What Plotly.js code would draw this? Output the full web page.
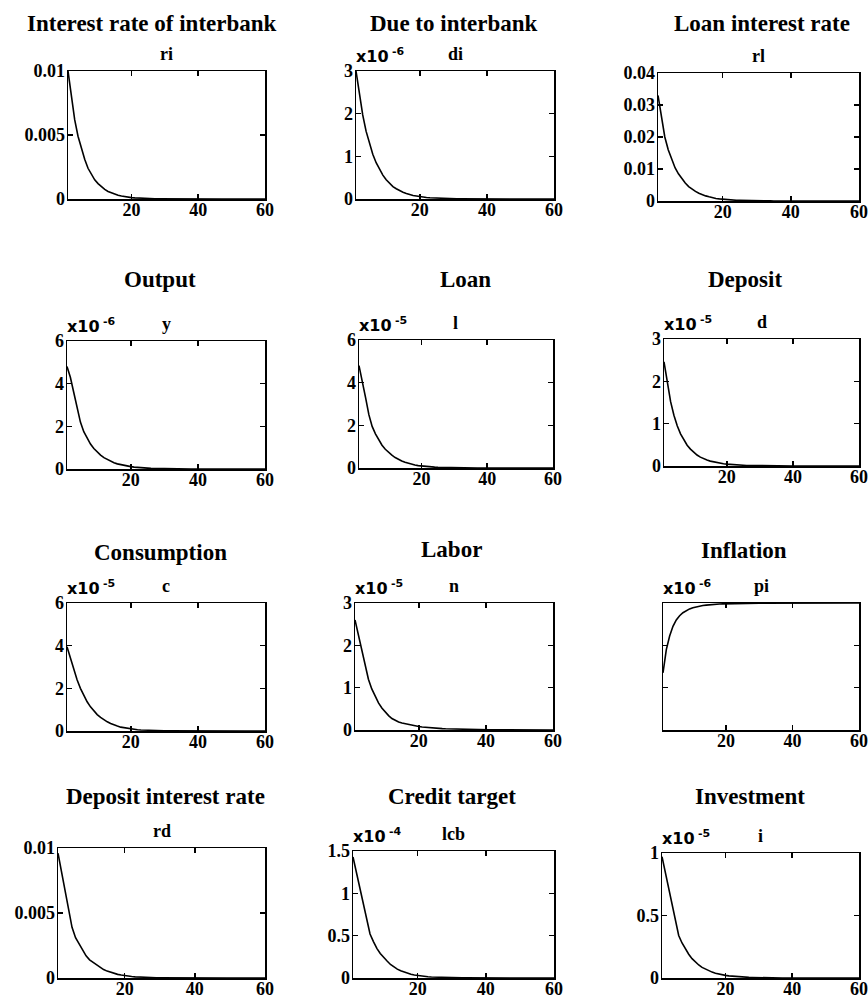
<!DOCTYPE html>
<html>
<head>
<meta charset="utf-8">
<script src="https://cdn.plot.ly/plotly-3.0.1.min.js"></script>
<style>html,body{margin:0;padding:0;background:#fff;}#chart{width:868px;height:1000px;}</style>
</head>
<body>
<div id="chart"></div>
<script>
// ---------------- DATA (impulse responses, periods 1..60) ----------------
const periods = Array.from({length: 60}, (_, k) => k + 1);

const panelTitles = ['Interest rate of interbank', 'Due to interbank', 'Loan interest rate',
                     'Output', 'Loan', 'Deposit',
                     'Consumption', 'Labor', 'Inflation',
                     'Deposit interest rate', 'Credit target', 'Investment'];
const varNames = ['ri', 'di', 'rl', 'y', 'l', 'd', 'c', 'n', 'pi', 'rd', 'lcb', 'i'];
const exponents = ['', '-6', '', '-6', '-5', '-5', '-5', '-5', '-6', '', '-4', '-5'];

const ri = [0.0100,0.0079,0.0062,0.0049,0.0039,0.0031,0.0024,0.0019,0.0015,0.0012,
  0.00095,0.00075,0.00059,0.00047,0.00037,0.00029,0.00023,0.00018,0.00014,0.00011,
  0.00009,0.00007,0.000055,0.000044,0.000035,0.000027,0.000022,0.000017,0.000013,0.00001,
  0.000008,0.000006,0.000005,0.000004,0.000003,0.000002,0.000002,0.000001,0.000001,0.000001,
  0,0,0,0,0,0,0,0,0,0, 0,0,0,0,0,0,0,0,0,0];
const di = [3.00,2.43,1.97,1.59,1.29,1.05,0.85,0.69,0.56,0.45,
  0.36,0.29,0.24,0.19,0.16,0.13,0.10,0.08,0.07,0.055,
  0.045,0.036,0.029,0.024,0.019,0.016,0.013,0.010,0.008,0.006,
  0.005,0.004,0.003,0.003,0.002,0.002,0.001,0.001,0.001,0.001,
  0,0,0,0,0,0,0,0,0,0, 0,0,0,0,0,0,0,0,0,0];
const rl = [0.0330,0.0258,0.0200,0.0160,0.0129,0.0104,0.0085,0.0069,0.0056,0.0045,
  0.0037,0.0030,0.0024,0.0019,0.0016,0.0013,0.0010,0.0008,0.00066,0.00053,
  0.00043,0.00034,0.00027,0.00022,0.00018,0.00014,0.00011,0.00009,0.00007,0.00006,
  0.00005,0.00004,0.00003,0.000025,0.00002,0.000015,0.000012,0.00001,0.000008,0.000006,
  0.000005,0.000004,0.000003,0.000002,0.000002,0.000001,0.000001,0.000001,0,0,
  0,0,0,0,0,0,0,0,0,0];
const y = [4.80,4.30,3.60,2.85,2.20,1.75,1.42,1.17,0.96,0.79,
  0.65,0.53,0.44,0.36,0.29,0.24,0.20,0.16,0.13,0.11,
  0.09,0.07,0.06,0.05,0.04,0.03,0.025,0.02,0.016,0.013,
  0.010,0.008,0.007,0.005,0.004,0.003,0.003,0.002,0.002,0.001,
  0.001,0.001,0,0,0,0,0,0,0,0, 0,0,0,0,0,0,0,0,0,0];
const l = [4.80,4.10,3.30,2.50,1.95,1.60,1.30,1.07,0.88,0.73,
  0.60,0.49,0.40,0.33,0.27,0.22,0.18,0.14,0.11,0.09,
  0.07,0.06,0.05,0.04,0.03,0.025,0.02,0.016,0.013,0.010,
  0.008,0.006,0.005,0.004,0.003,0.003,0.002,0.002,0.001,0.001,
  0,0,0,0,0,0,0,0,0,0, 0,0,0,0,0,0,0,0,0,0];
const d = [2.46,1.93,1.52,1.20,0.95,0.76,0.61,0.49,0.40,0.32,
  0.26,0.21,0.17,0.14,0.115,0.095,0.078,0.064,0.053,0.044,
  0.036,0.030,0.025,0.020,0.016,0.013,0.011,0.009,0.007,0.006,
  0.005,0.004,0.003,0.003,0.002,0.002,0.001,0.001,0.001,0.001,
  0,0,0,0,0,0,0,0,0,0, 0,0,0,0,0,0,0,0,0,0];
const c = [3.95,3.40,2.90,2.40,2.00,1.65,1.37,1.13,0.93,0.77,
  0.64,0.52,0.43,0.35,0.28,0.23,0.18,0.15,0.12,0.095,
  0.077,0.062,0.050,0.040,0.032,0.026,0.021,0.017,0.013,0.011,
  0.009,0.007,0.006,0.005,0.004,0.003,0.002,0.002,0.002,0.001,
  0.001,0.001,0,0,0,0,0,0,0,0, 0,0,0,0,0,0,0,0,0,0];
const n = [2.60,2.25,1.85,1.50,1.20,0.97,0.79,0.64,0.52,0.42,
  0.34,0.27,0.22,0.19,0.165,0.145,0.127,0.110,0.095,0.082,
  0.072,0.063,0.055,0.048,0.042,0.037,0.032,0.028,0.025,0.022,
  0.019,0.017,0.015,0.013,0.011,0.010,0.009,0.008,0.007,0.006,
  0.005,0.004,0.004,0.003,0.003,0.002,0.002,0.002,0.001,0.001,
  0.001,0.001,0.001,0,0,0,0,0,0,0];
const pi = [-1.65,-1.10,-0.78,-0.55,-0.40,-0.30,-0.23,-0.18,-0.14,-0.11,
  -0.09,-0.07,-0.06,-0.05,-0.04,-0.035,-0.03,-0.025,-0.02,-0.017,
  -0.014,-0.012,-0.010,-0.008,-0.007,-0.006,-0.005,-0.004,-0.003,-0.003,
  -0.002,-0.002,-0.002,-0.001,-0.001,-0.001,-0.001,0,0,0,
  0,0,0,0,0,0,0,0,0,0, 0,0,0,0,0,0,0,0,0,0];
const rd = [0.0096,0.0081,0.0066,0.0051,0.0039,0.0031,0.0026,0.0021,0.0017,0.0014,
  0.0012,0.00098,0.0008,0.00065,0.00053,0.00043,0.00035,0.00028,0.00023,0.00018,
  0.00014,0.00011,0.00009,0.00007,0.000055,0.000045,0.000035,0.000028,0.000022,0.000017,
  0.000013,0.00001,0.000008,0.000006,0.000005,0.000004,0.000003,0.000002,0.000002,0.000001,
  0.000001,0.000001,0,0,0,0,0,0,0,0, 0,0,0,0,0,0,0,0,0,0];
const lcb = [1.43,1.25,1.07,0.88,0.68,0.52,0.43,0.35,0.29,0.24,
  0.20,0.16,0.13,0.105,0.085,0.070,0.056,0.045,0.036,0.029,
  0.023,0.019,0.015,0.012,0.010,0.008,0.006,0.005,0.004,0.003,
  0.002,0.002,0.001,0.001,0.001,0,0,0,0,0, 0,0,0,0,0,0,0,0,0,0, 0,0,0,0,0,0,0,0,0,0];
const inv = [0.97,0.84,0.70,0.57,0.44,0.34,0.28,0.23,0.19,0.155,
  0.127,0.104,0.085,0.070,0.057,0.047,0.038,0.031,0.026,0.021,
  0.017,0.014,0.011,0.009,0.0075,0.006,0.005,0.004,0.003,0.0025,
  0.002,0.0015,0.001,0.001,0.001,0,0,0,0,0, 0,0,0,0,0,0,0,0,0,0, 0,0,0,0,0,0,0,0,0,0];

const series = [ri, di, rl, y, l, d, c, n, pi, rd, lcb, inv];

// y-axis ranges and tick labels
const yRanges = [[0,0.01],[0,3],[0,0.04],[0,6],[0,6],[0,3],[0,6],[0,3],[-3,0],[0,0.01],[0,1.5],[0,1]];
const yTickVals = [[0,0.005,0.01],[0,1,2,3],[0,0.01,0.02,0.03,0.04],[0,2,4,6],[0,2,4,6],[0,1,2,3],
                   [0,2,4,6],[0,1,2,3],[-3,-2,-1,0],[0,0.005,0.01],[0,0.5,1,1.5],[0,0.5,1]];
const yTickText = [['0','0.005','0.01'],['0','1','2','3'],['0','0.01','0.02','0.03','0.04'],['0','2','4','6'],
                   ['0','2','4','6'],['0','1','2','3'],['0','2','4','6'],['0','1','2','3'],null,
                   ['0','0.005','0.01'],['0','0.5','1','1.5'],['0','0.5','1']];
const xTickVals = [20, 40, 60];
const xTickText = ['20', '40', '60'];

// ---------------- LAYOUT (pixel boxes: left, right, top, bottom) ----------------
const W = 868, H = 1000;
const boxes = [
  [68,265,71,199],[356,554,71,199],[658,859,73,201],
  [67,265,341,469],[359,553,340,468],[664,859,339,466],
  [67,265,603,731],[355,553,603,730],[663,859,603,730],
  [58,265,848,978],[353,554,851,978],[662,859,853,978]
];
const bigTitlePos = [[152,23],[454,23],[762,23],[160,279],[465,279],[745,279],
                     [160,552],[452,549],[744,550],[165,796],[452,796],[750,796]];

const serif = 'Liberation Serif, Times New Roman, serif';
const traces = [];
const layout = {
  width: W, height: H,
  margin: {l: 0, r: 0, t: 0, b: 0},
  paper_bgcolor: '#fff', plot_bgcolor: '#fff',
  showlegend: false,
  annotations: []
};

series.forEach((vals, k) => {
  const idx = k + 1;
  const xa = idx === 1 ? 'x' : 'x' + idx;
  const ya = idx === 1 ? 'y' : 'y' + idx;
  traces.push({
    x: periods, y: vals, xaxis: xa, yaxis: ya,
    type: 'scatter', mode: 'lines',
    line: {color: '#000', width: 1.6},
    hoverinfo: 'skip'
  });
  const [x0, x1, t0, b0] = boxes[k];
  const common = {
    showline: true, linecolor: '#000', linewidth: 1.5, mirror: 'ticks',
    ticks: 'inside', ticklen: 5, tickwidth: 1.5, tickcolor: '#000',
    showgrid: false, zeroline: false, fixedrange: true,
    tickfont: {family: serif, size: 18, color: '#000', weight: 'bold'}
  };
  layout['xaxis' + (idx === 1 ? '' : idx)] = Object.assign({}, common, {
    domain: [x0 / W, x1 / W], range: [1, 60], anchor: ya,
    tickmode: 'array', tickvals: xTickVals, ticktext: xTickText, ticklabelstandoff: -6
  });
  const yax = Object.assign({}, common, {
    domain: [1 - b0 / H, 1 - t0 / H], range: yRanges[k], anchor: xa,
    tickmode: 'array', tickvals: yTickVals[k], ticklabelstandoff: -2
  });
  if (yTickText[k]) { yax.ticktext = yTickText[k]; } else { yax.showticklabels = false; }
  layout['yaxis' + (idx === 1 ? '' : idx)] = yax;
  // big panel title
  layout.annotations.push({
    xref: 'paper', yref: 'paper', x: bigTitlePos[k][0] / W, y: 1 - bigTitlePos[k][1] / H,
    xanchor: 'center', yanchor: 'middle', showarrow: false,
    text: panelTitles[k], font: {family: serif, size: 23, color: '#000', weight: 'bold'}
  });
  // variable name
  layout.annotations.push({
    xref: 'paper', yref: 'paper', x: ((x0 + x1) / 2) / W, y: 1 - (t0 - 5) / H,
    xanchor: 'center', yanchor: 'bottom', showarrow: false,
    text: varNames[k], font: {family: serif, size: 18, color: '#000', weight: 'bold'}
  });
  // exponent: "x10" with a raised, smaller power
  if (exponents[k]) {
    layout.annotations.push({
      xref: 'paper', yref: 'paper', x: (x0 - 2) / W, y: 1 - (t0 - 3) / H,
      xanchor: 'left', yanchor: 'bottom', showarrow: false,
      text: 'x10',
      font: {family: 'DejaVu Sans, sans-serif', size: 16, color: '#000', weight: 'bold'}
    });
    layout.annotations.push({
      xref: 'paper', yref: 'paper', x: (x0 + 34) / W, y: 1 - (t0 - 11) / H,
      xanchor: 'left', yanchor: 'bottom', showarrow: false,
      text: exponents[k],
      font: {family: 'DejaVu Sans, sans-serif', size: 11, color: '#000', weight: 'bold'}
    });
  }
});

Plotly.newPlot('chart', traces, layout, {displayModeBar: false, staticPlot: true});
</script>
</body>
</html>
